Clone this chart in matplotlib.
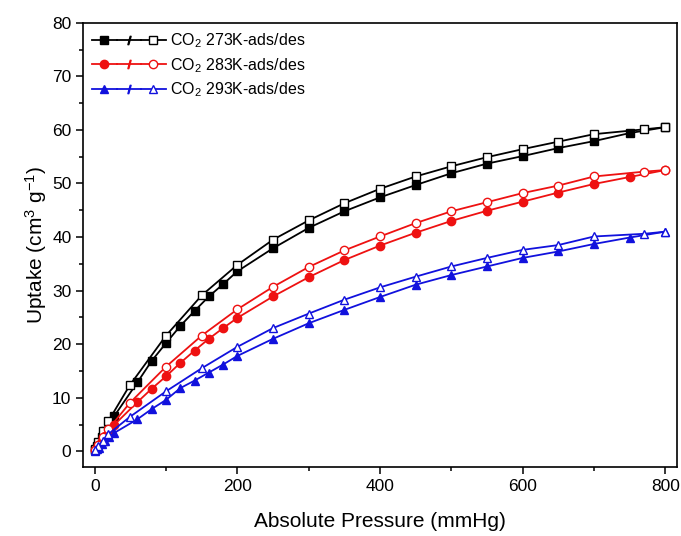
import matplotlib
matplotlib.use("Agg")
import matplotlib.pyplot as plt
from matplotlib.lines import Line2D
from matplotlib.legend_handler import HandlerTuple
from matplotlib.ticker import MultipleLocator

plt.rcParams['font.family'] = ['Liberation Sans', 'DejaVu Sans']
plt.rcParams['mathtext.fontset'] = 'custom'
plt.rcParams['mathtext.rm'] = 'Liberation Sans'
plt.rcParams['mathtext.it'] = 'Liberation Sans:italic'

# adsorption branch (filled) and desorption branch (open)
p_ads = [1, 3, 6, 10, 15, 20, 27, 60, 80, 100, 120, 140, 160, 180, 200, 250,
         300, 350, 400, 450, 500, 550, 600, 650, 700, 750, 800]
p_des = [800, 770, 700, 650, 600, 550, 500, 450, 400, 350, 300, 250, 200,
         150, 100, 49, 19, 12, 5, 1]

u273_ads = [0.3, 0.9, 1.6, 2.6, 3.7, 4.8, 6.5, 12.9, 16.9, 20.2, 23.4, 26.2,
            28.9, 31.2, 33.6, 37.9, 41.7, 44.8, 47.4, 49.7, 51.9, 53.7, 55.1,
            56.6, 57.9, 59.4, 60.5]
u273_des = [60.5, 60.1, 59.2, 57.8, 56.4, 54.9, 53.2, 51.3, 49.0, 46.3, 43.1,
            39.5, 34.8, 29.1, 21.6, 12.3, 5.6, 3.8, 1.7, 0.4]

u283_ads = [0.2, 0.6, 1.1, 1.9, 2.8, 3.6, 4.9, 9.2, 11.7, 14.0, 16.5, 18.8,
            21.0, 23.0, 24.9, 28.9, 32.5, 35.7, 38.4, 40.8, 43.0, 44.9, 46.6,
            48.3, 49.9, 51.2, 52.5]
u283_des = [52.5, 52.2, 51.3, 49.6, 48.2, 46.5, 44.8, 42.6, 40.1, 37.5, 34.4,
            30.7, 26.5, 21.6, 15.8, 9.0, 4.1, 2.7, 1.2, 0.3]

u293_ads = [0.15, 0.4, 0.7, 1.3, 2.0, 2.6, 3.4, 6.0, 7.9, 9.6, 11.8, 13.2,
            14.7, 16.2, 17.8, 21.0, 23.9, 26.4, 28.8, 31.1, 32.9, 34.5, 36.1,
            37.3, 38.7, 39.9, 41.0]
u293_des = [41.0, 40.6, 40.1, 38.5, 37.6, 36.1, 34.5, 32.6, 30.6, 28.3, 25.7,
            23.0, 19.5, 15.5, 11.2, 6.4, 3.2, 2.0, 0.9, 0.2]

labels = [r'CO$_2$ 273K-ads/des', r'CO$_2$ 283K-ads/des', r'CO$_2$ 293K-ads/des']
colors = ['black', '#ee1111', '#1111dd']
markers = ['s', 'o', '^']
ads_sets = [u273_ads, u283_ads, u293_ads]
des_sets = [u273_des, u283_des, u293_des]

fig = plt.figure(figsize=(6.81, 5.36), dpi=100)
ax = fig.add_axes([0.1223, 0.128, 0.8714, 0.8296])

handles = []
for lab, c, m, ua, ud in zip(labels, colors, markers, ads_sets, des_sets):
    la, = ax.plot(p_ads, ua, color=c, marker=m, ms=6, lw=1.3, mfc=c, mec=c)
    ld, = ax.plot(p_des, ud, color=c, marker=m, ms=6, lw=1.3, mfc='white',
                  mec=c, mew=1.0)
    slash = Line2D([], [], color=c, lw=1.3, marker='$/$', ms=6, mec=c, mfc=c)
    handles.append((la, slash, ld))

ax.legend(handles, labels, handler_map={tuple: HandlerTuple(ndivide=None, pad=0)},
          loc='upper left', frameon=False, fontsize=11.5, handlelength=4.6,
          handletextpad=0.3, borderaxespad=0.1, borderpad=0.45,
          labelspacing=0.35)

ax.set_xlim(-16, 816)
ax.set_ylim(-3, 80)
ax.xaxis.set_major_locator(MultipleLocator(200))
ax.xaxis.set_minor_locator(MultipleLocator(100))
ax.yaxis.set_major_locator(MultipleLocator(10))
ax.yaxis.set_minor_locator(MultipleLocator(5))
ax.tick_params(which='major', direction='out', length=5, width=1.1, labelsize=12.5)
ax.tick_params(which='minor', direction='out', length=3, width=1.1)
for s in ax.spines.values():
    s.set_linewidth(1.2)

ax.set_xlabel('Absolute Pressure (mmHg)', fontsize=15, labelpad=13)
ax.set_ylabel(r'Uptake (cm$^3$ g$^{-1}$)', fontsize=15, labelpad=2)

fig.savefig('out.png', dpi=100)
